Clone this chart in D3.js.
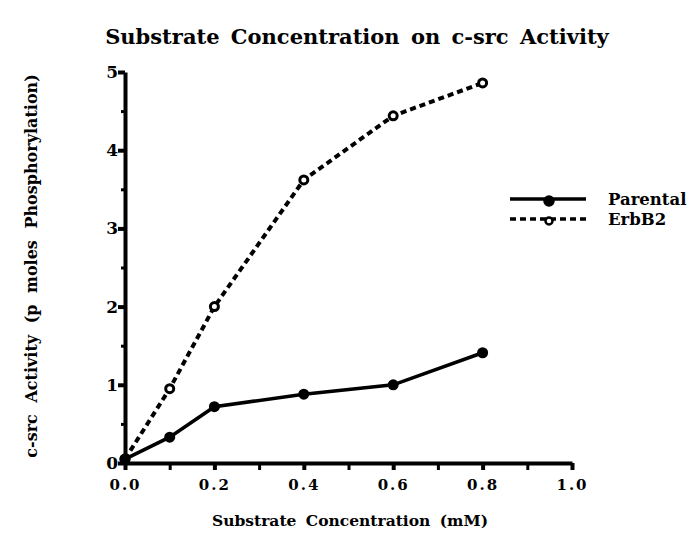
<!DOCTYPE html>
<style>
    body { margin: 0; background: #fff; }
    text { font-family: "DejaVu Serif", "Liberation Serif", serif; font-weight: bold; fill: #000; }
    .axis .domain, .axis .tick line { stroke: #000; stroke-width: 4px; }
    .minor .tick line { stroke: #000; stroke-width: 3px; }
</style>
<body>
<script src="https://d3js.org/d3.v7.min.js"></script>
<script>
    // data
    var conc = [0.0, 0.1, 0.2, 0.4, 0.6, 0.8];
    var parental = [0.05, 0.33, 0.72, 0.88, 1.0, 1.41];
    var erbb2 = [0.05, 0.95, 2.0, 3.62, 4.44, 4.86];
    var xTicks = [0, 0.2, 0.4, 0.6, 0.8, 1.0];
    var xMinor = [0.1, 0.3, 0.5, 0.7, 0.9];
    var yTicks = [0, 1, 2, 3, 4, 5];
    var yMinor = [0.5, 1.5, 2.5, 3.5, 4.5];

    var svg = d3.select("body").append("svg")
        .attr("width", 691)
        .attr("height", 544);

    var x = d3.scaleLinear().domain([0, 1]).range([125, 572]);
    var y = d3.scaleLinear().domain([0, 5]).range([463, 72]);

    // title
    svg.append("text")
        .attr("x", 357).attr("y", 44)
        .attr("text-anchor", "middle")
        .style("font-size", "21px")
        .style("word-spacing", "4px")
        .text("Substrate Concentration on c-src Activity");

    // minor ticks
    svg.append("g").attr("class", "minor")
        .attr("transform", "translate(0,463)")
        .call(d3.axisBottom(x).tickValues(xMinor).tickSize(7).tickFormat(""))
        .select(".domain").remove();
    svg.append("g").attr("class", "minor")
        .attr("transform", "translate(125,0)")
        .call(d3.axisLeft(y).tickValues(yMinor).tickSize(4).tickFormat(""))
        .select(".domain").remove();

    var xAxis = svg.append("g").attr("class", "axis")
        .attr("transform", "translate(0,463)")
        .call(d3.axisBottom(x).tickValues(xTicks).tickSize(7).tickSizeOuter(0)
            .tickFormat(d3.format(".1f")));
    xAxis.selectAll("text")
        .attr("y", 16)
        .style("font-size", "15px")
        .style("letter-spacing", "2px");

    var yAxis = svg.append("g").attr("class", "axis")
        .attr("transform", "translate(125,0)")
        .call(d3.axisLeft(y).tickValues(yTicks).tickSize(7).tickSizeOuter(0)
            .tickFormat(d3.format("d")));
    yAxis.selectAll("text")
        .attr("x", -7)
        .style("font-size", "17px");

    // axis titles
    svg.append("text")
        .attr("x", 350).attr("y", 526)
        .attr("text-anchor", "middle")
        .style("font-size", "15.5px")
        .style("word-spacing", "4px")
        .text("Substrate Concentration (mM)");

    svg.append("text")
        .attr("transform", "translate(37,266) rotate(-90)")
        .attr("text-anchor", "middle")
        .style("font-size", "16px")
        .style("word-spacing", "6px")
        .text("c-src Activity (p moles Phosphorylation)");

    var line = d3.line()
        .x(function(d, i) { return x(conc[i]); })
        .y(function(d) { return y(d); });

    // ErbB2 dashed
    svg.append("path")
        .attr("d", line(erbb2))
        .attr("fill", "none")
        .attr("stroke", "#000")
        .attr("stroke-width", 4)
        .attr("stroke-dasharray", "6,4");
    svg.selectAll(".erb").data(erbb2).enter().append("circle")
        .attr("cx", function(d, i) { return x(conc[i]); })
        .attr("cy", function(d) { return y(d); })
        .attr("r", 4)
        .attr("fill", "#fff")
        .attr("stroke", "#000")
        .attr("stroke-width", 3);

    // Parental solid
    svg.append("path")
        .attr("d", line(parental))
        .attr("fill", "none")
        .attr("stroke", "#000")
        .attr("stroke-width", 3.5);
    svg.selectAll(".par").data(parental).enter().append("circle")
        .attr("cx", function(d, i) { return x(conc[i]); })
        .attr("cy", function(d) { return y(d); })
        .attr("r", 5.5)
        .attr("fill", "#000");

    // legend
    var legend = [
        { name: "Parental", dash: null, fill: "#000", r: 4.5, y: 199 },
        { name: "ErbB2", dash: "6,4", fill: "#fff", r: 3.5, y: 219 }
    ];
    legend.forEach(function(l) {
        svg.append("line")
            .attr("x1", 510).attr("x2", 586)
            .attr("y1", l.y).attr("y2", l.y)
            .attr("stroke", "#000")
            .attr("stroke-width", 3.5)
            .attr("stroke-dasharray", l.dash);
        svg.append("circle")
            .attr("cx", 549).attr("cy", l.y + 2)
            .attr("r", l.r)
            .attr("fill", l.fill)
            .attr("stroke", "#000")
            .attr("stroke-width", 2.5);
        svg.append("text")
            .attr("x", 608).attr("y", l.y + 6)
            .style("font-size", "16.5px")
            .text(l.name);
    });
</script>
</body>
